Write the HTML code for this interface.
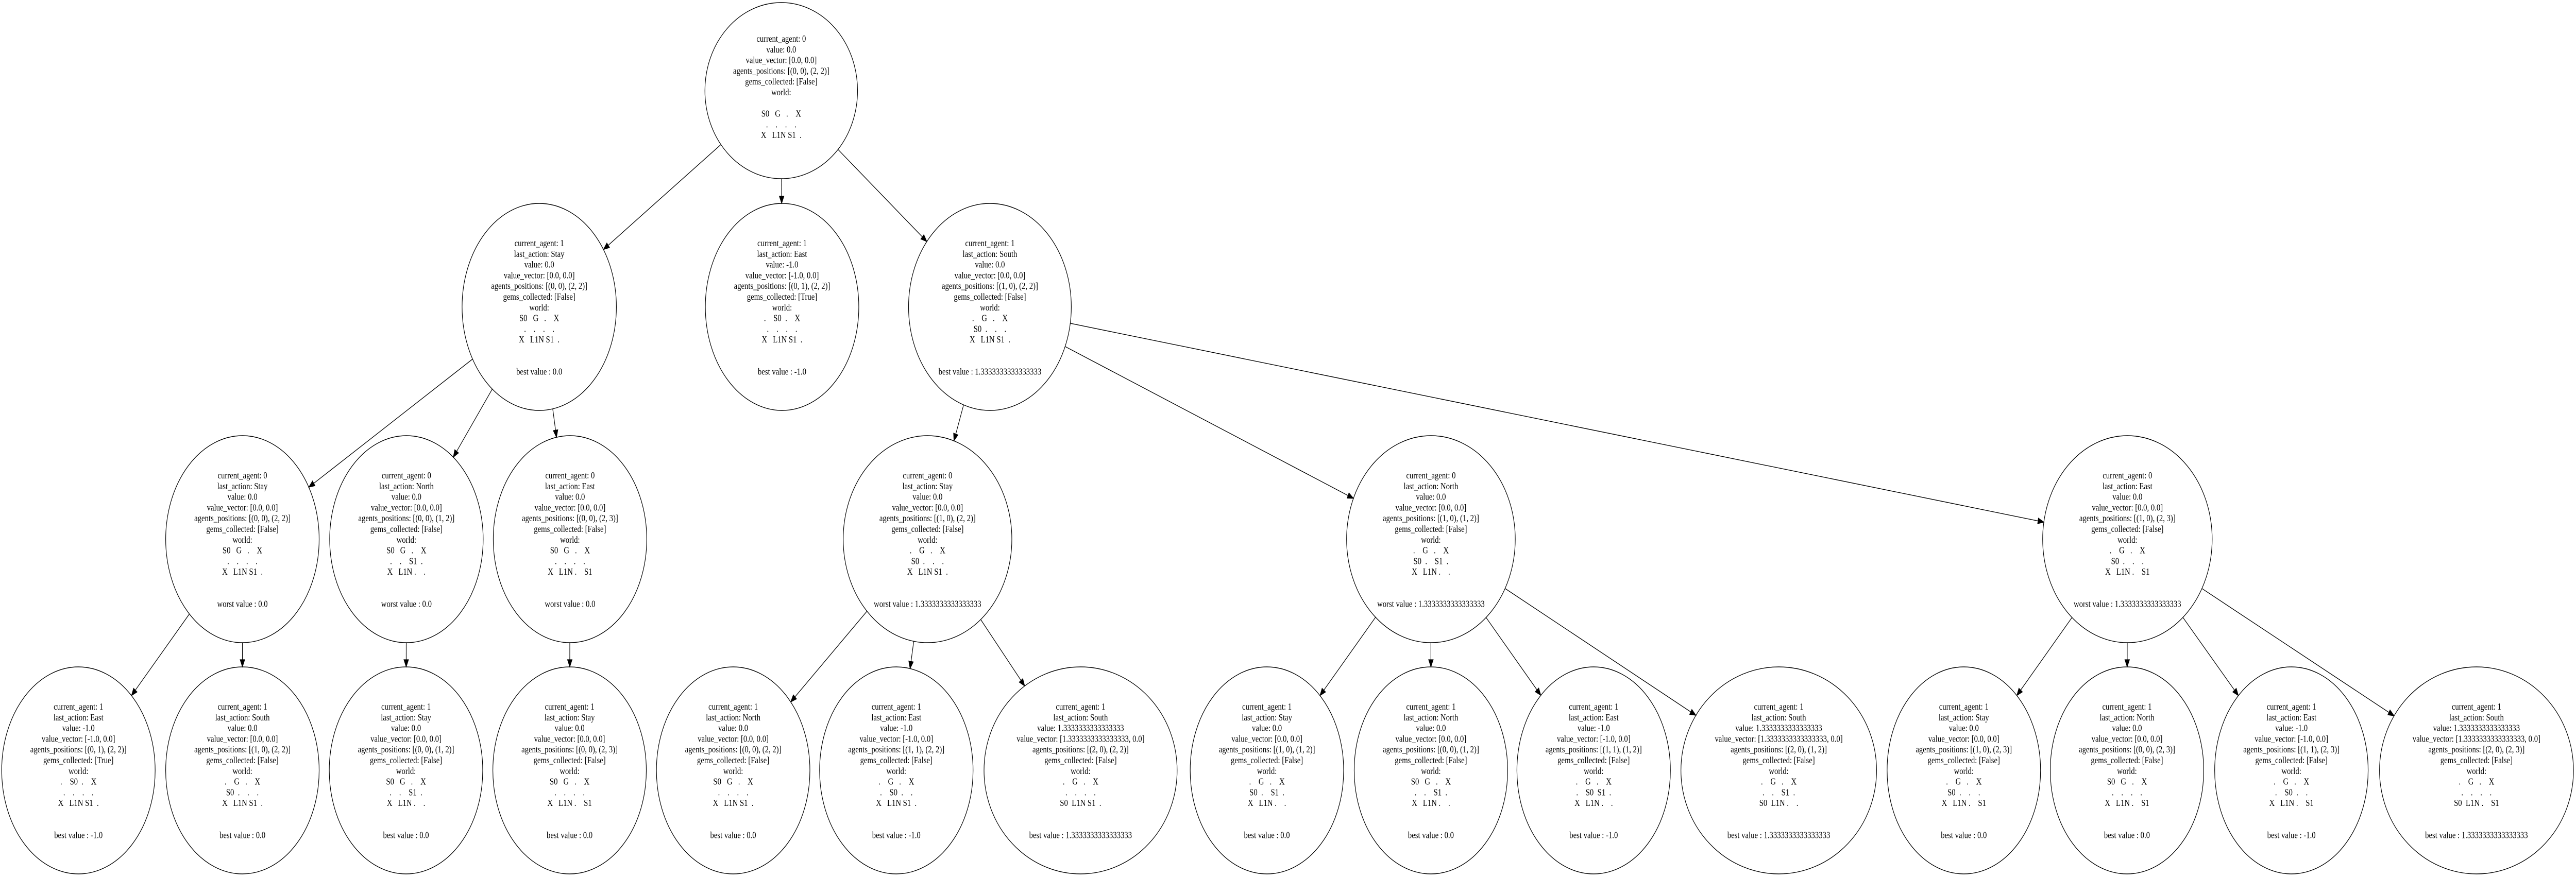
<!DOCTYPE html>
<html><head><meta charset="utf-8">
<style>
html,body{margin:0;padding:0;background:#fff;width:100%;height:100%;overflow:hidden;}
svg{display:block;width:100vw;height:100vh;position:fixed;left:0;top:0;}
text{font-family:"Liberation Serif","Times New Roman",serif;font-size:18px;fill:#000;}
ellipse{fill:none;stroke:#000;stroke-width:1.4;}
</style></head><body>
<svg id="s" viewBox="0 0 6110 1703" preserveAspectRatio="none" xmlns="http://www.w3.org/2000/svg">
<rect width="6110" height="1703" fill="#fff"/>
<g id="edges"></g>

<!-- Root -->
<g transform="translate(1853,176)"><ellipse rx="181" ry="171"/>
<text text-anchor="middle" xml:space="preserve" y="-95"><tspan x="0">current_agent: 0</tspan><tspan x="0" dy="20.8">value: 0.0</tspan><tspan x="0" dy="20.8">value_vector: [0.0, 0.0]</tspan><tspan x="0" dy="20.8">agents_positions: [(0, 0), (2, 2)]</tspan><tspan x="0" dy="20.8">gems_collected: [False]</tspan><tspan x="0" dy="20.8">world:</tspan><tspan x="0" dy="41.6">S0   G   .    X</tspan><tspan x="0" dy="20.8">.    .    .    .</tspan><tspan x="0" dy="20.8">X   L1N S1  .</tspan></text></g>

<!-- L1 -->
<g transform="translate(1279,596)"><ellipse rx="183" ry="201"/>
<text text-anchor="middle" xml:space="preserve" y="-118"><tspan x="0">current_agent: 1</tspan><tspan x="0" dy="20.8">last_action: Stay</tspan><tspan x="0" dy="20.8">value: 0.0</tspan><tspan x="0" dy="20.8">value_vector: [0.0, 0.0]</tspan><tspan x="0" dy="20.8">agents_positions: [(0, 0), (2, 2)]</tspan><tspan x="0" dy="20.8">gems_collected: [False]</tspan><tspan x="0" dy="20.8">world:</tspan><tspan x="0" dy="20.8">S0   G   .    X</tspan><tspan x="0" dy="20.8">.    .    .    .</tspan><tspan x="0" dy="20.8">X   L1N S1  .</tspan><tspan x="0" dy="62.4">best value : 0.0</tspan></text></g>

<g transform="translate(1855,596)"><ellipse rx="182" ry="201"/>
<text text-anchor="middle" xml:space="preserve" y="-118"><tspan x="0">current_agent: 1</tspan><tspan x="0" dy="20.8">last_action: East</tspan><tspan x="0" dy="20.8">value: -1.0</tspan><tspan x="0" dy="20.8">value_vector: [-1.0, 0.0]</tspan><tspan x="0" dy="20.8">agents_positions: [(0, 1), (2, 2)]</tspan><tspan x="0" dy="20.8">gems_collected: [True]</tspan><tspan x="0" dy="20.8">world:</tspan><tspan x="0" dy="20.8">.    S0  .    X</tspan><tspan x="0" dy="20.8">.    .    .    .</tspan><tspan x="0" dy="20.8">X   L1N S1  .</tspan><tspan x="0" dy="62.4">best value : -1.0</tspan></text></g>

<g transform="translate(2348,596)"><ellipse rx="193" ry="201"/>
<text text-anchor="middle" xml:space="preserve" y="-118"><tspan x="0">current_agent: 1</tspan><tspan x="0" dy="20.8">last_action: South</tspan><tspan x="0" dy="20.8">value: 0.0</tspan><tspan x="0" dy="20.8">value_vector: [0.0, 0.0]</tspan><tspan x="0" dy="20.8">agents_positions: [(1, 0), (2, 2)]</tspan><tspan x="0" dy="20.8">gems_collected: [False]</tspan><tspan x="0" dy="20.8">world:</tspan><tspan x="0" dy="20.8">.    G   .    X</tspan><tspan x="0" dy="20.8">S0  .    .    .</tspan><tspan x="0" dy="20.8">X   L1N S1  .</tspan><tspan x="0" dy="62.4">best value : 1.3333333333333333</tspan></text></g>

<!-- L2 -->
<g transform="translate(575,1047)"><ellipse rx="182" ry="201"/>
<text text-anchor="middle" xml:space="preserve" y="-118"><tspan x="0">current_agent: 0</tspan><tspan x="0" dy="20.8">last_action: Stay</tspan><tspan x="0" dy="20.8">value: 0.0</tspan><tspan x="0" dy="20.8">value_vector: [0.0, 0.0]</tspan><tspan x="0" dy="20.8">agents_positions: [(0, 0), (2, 2)]</tspan><tspan x="0" dy="20.8">gems_collected: [False]</tspan><tspan x="0" dy="20.8">world:</tspan><tspan x="0" dy="20.8">S0   G   .    X</tspan><tspan x="0" dy="20.8">.    .    .    .</tspan><tspan x="0" dy="20.8">X   L1N S1  .</tspan><tspan x="0" dy="62.4">worst value : 0.0</tspan></text></g>

<g transform="translate(964,1047)"><ellipse rx="182" ry="201"/>
<text text-anchor="middle" xml:space="preserve" y="-118"><tspan x="0">current_agent: 0</tspan><tspan x="0" dy="20.8">last_action: North</tspan><tspan x="0" dy="20.8">value: 0.0</tspan><tspan x="0" dy="20.8">value_vector: [0.0, 0.0]</tspan><tspan x="0" dy="20.8">agents_positions: [(0, 0), (1, 2)]</tspan><tspan x="0" dy="20.8">gems_collected: [False]</tspan><tspan x="0" dy="20.8">world:</tspan><tspan x="0" dy="20.8">S0   G   .    X</tspan><tspan x="0" dy="20.8">.    .    S1  .</tspan><tspan x="0" dy="20.8">X   L1N .    .</tspan><tspan x="0" dy="62.4">worst value : 0.0</tspan></text></g>

<g transform="translate(1352,1047)"><ellipse rx="182" ry="201"/>
<text text-anchor="middle" xml:space="preserve" y="-118"><tspan x="0">current_agent: 0</tspan><tspan x="0" dy="20.8">last_action: East</tspan><tspan x="0" dy="20.8">value: 0.0</tspan><tspan x="0" dy="20.8">value_vector: [0.0, 0.0]</tspan><tspan x="0" dy="20.8">agents_positions: [(0, 0), (2, 3)]</tspan><tspan x="0" dy="20.8">gems_collected: [False]</tspan><tspan x="0" dy="20.8">world:</tspan><tspan x="0" dy="20.8">S0   G   .    X</tspan><tspan x="0" dy="20.8">.    .    .    .</tspan><tspan x="0" dy="20.8">X   L1N .    S1</tspan><tspan x="0" dy="62.4">worst value : 0.0</tspan></text></g>

<g transform="translate(2200,1047)"><ellipse rx="200" ry="201"/>
<text text-anchor="middle" xml:space="preserve" y="-118"><tspan x="0">current_agent: 0</tspan><tspan x="0" dy="20.8">last_action: Stay</tspan><tspan x="0" dy="20.8">value: 0.0</tspan><tspan x="0" dy="20.8">value_vector: [0.0, 0.0]</tspan><tspan x="0" dy="20.8">agents_positions: [(1, 0), (2, 2)]</tspan><tspan x="0" dy="20.8">gems_collected: [False]</tspan><tspan x="0" dy="20.8">world:</tspan><tspan x="0" dy="20.8">.    G   .    X</tspan><tspan x="0" dy="20.8">S0  .    .    .</tspan><tspan x="0" dy="20.8">X   L1N S1  .</tspan><tspan x="0" dy="62.4">worst value : 1.3333333333333333</tspan></text></g>

<g transform="translate(3394,1047)"><ellipse rx="200" ry="201"/>
<text text-anchor="middle" xml:space="preserve" y="-118"><tspan x="0">current_agent: 0</tspan><tspan x="0" dy="20.8">last_action: North</tspan><tspan x="0" dy="20.8">value: 0.0</tspan><tspan x="0" dy="20.8">value_vector: [0.0, 0.0]</tspan><tspan x="0" dy="20.8">agents_positions: [(1, 0), (1, 2)]</tspan><tspan x="0" dy="20.8">gems_collected: [False]</tspan><tspan x="0" dy="20.8">world:</tspan><tspan x="0" dy="20.8">.    G   .    X</tspan><tspan x="0" dy="20.8">S0  .    S1  .</tspan><tspan x="0" dy="20.8">X   L1N .    .</tspan><tspan x="0" dy="62.4">worst value : 1.3333333333333333</tspan></text></g>

<g transform="translate(5046,1047)"><ellipse rx="201" ry="201"/>
<text text-anchor="middle" xml:space="preserve" y="-118"><tspan x="0">current_agent: 0</tspan><tspan x="0" dy="20.8">last_action: East</tspan><tspan x="0" dy="20.8">value: 0.0</tspan><tspan x="0" dy="20.8">value_vector: [0.0, 0.0]</tspan><tspan x="0" dy="20.8">agents_positions: [(1, 0), (2, 3)]</tspan><tspan x="0" dy="20.8">gems_collected: [False]</tspan><tspan x="0" dy="20.8">world:</tspan><tspan x="0" dy="20.8">.    G   .    X</tspan><tspan x="0" dy="20.8">S0  .    .    .</tspan><tspan x="0" dy="20.8">X   L1N .    S1</tspan><tspan x="0" dy="62.4">worst value : 1.3333333333333333</tspan></text></g>

<!-- L3 -->
<g transform="translate(186,1496)"><ellipse rx="182" ry="201"/>
<text text-anchor="middle" xml:space="preserve" y="-118"><tspan x="0">current_agent: 1</tspan><tspan x="0" dy="20.8">last_action: East</tspan><tspan x="0" dy="20.8">value: -1.0</tspan><tspan x="0" dy="20.8">value_vector: [-1.0, 0.0]</tspan><tspan x="0" dy="20.8">agents_positions: [(0, 1), (2, 2)]</tspan><tspan x="0" dy="20.8">gems_collected: [True]</tspan><tspan x="0" dy="20.8">world:</tspan><tspan x="0" dy="20.8">.    S0  .    X</tspan><tspan x="0" dy="20.8">.    .    .    .</tspan><tspan x="0" dy="20.8">X   L1N S1  .</tspan><tspan x="0" dy="62.4">best value : -1.0</tspan></text></g>

<g transform="translate(575,1496)"><ellipse rx="182" ry="201"/>
<text text-anchor="middle" xml:space="preserve" y="-118"><tspan x="0">current_agent: 1</tspan><tspan x="0" dy="20.8">last_action: South</tspan><tspan x="0" dy="20.8">value: 0.0</tspan><tspan x="0" dy="20.8">value_vector: [0.0, 0.0]</tspan><tspan x="0" dy="20.8">agents_positions: [(1, 0), (2, 2)]</tspan><tspan x="0" dy="20.8">gems_collected: [False]</tspan><tspan x="0" dy="20.8">world:</tspan><tspan x="0" dy="20.8">.    G   .    X</tspan><tspan x="0" dy="20.8">S0  .    .    .</tspan><tspan x="0" dy="20.8">X   L1N S1  .</tspan><tspan x="0" dy="62.4">best value : 0.0</tspan></text></g>

<g transform="translate(963,1496)"><ellipse rx="182" ry="201"/>
<text text-anchor="middle" xml:space="preserve" y="-118"><tspan x="0">current_agent: 1</tspan><tspan x="0" dy="20.8">last_action: Stay</tspan><tspan x="0" dy="20.8">value: 0.0</tspan><tspan x="0" dy="20.8">value_vector: [0.0, 0.0]</tspan><tspan x="0" dy="20.8">agents_positions: [(0, 0), (1, 2)]</tspan><tspan x="0" dy="20.8">gems_collected: [False]</tspan><tspan x="0" dy="20.8">world:</tspan><tspan x="0" dy="20.8">S0   G   .    X</tspan><tspan x="0" dy="20.8">.    .    S1  .</tspan><tspan x="0" dy="20.8">X   L1N .    .</tspan><tspan x="0" dy="62.4">best value : 0.0</tspan></text></g>

<g transform="translate(1351,1496)"><ellipse rx="182" ry="201"/>
<text text-anchor="middle" xml:space="preserve" y="-118"><tspan x="0">current_agent: 1</tspan><tspan x="0" dy="20.8">last_action: Stay</tspan><tspan x="0" dy="20.8">value: 0.0</tspan><tspan x="0" dy="20.8">value_vector: [0.0, 0.0]</tspan><tspan x="0" dy="20.8">agents_positions: [(0, 0), (2, 3)]</tspan><tspan x="0" dy="20.8">gems_collected: [False]</tspan><tspan x="0" dy="20.8">world:</tspan><tspan x="0" dy="20.8">S0   G   .    X</tspan><tspan x="0" dy="20.8">.    .    .    .</tspan><tspan x="0" dy="20.8">X   L1N .    S1</tspan><tspan x="0" dy="62.4">best value : 0.0</tspan></text></g>

<g transform="translate(1739,1496)"><ellipse rx="182" ry="201"/>
<text text-anchor="middle" xml:space="preserve" y="-118"><tspan x="0">current_agent: 1</tspan><tspan x="0" dy="20.8">last_action: North</tspan><tspan x="0" dy="20.8">value: 0.0</tspan><tspan x="0" dy="20.8">value_vector: [0.0, 0.0]</tspan><tspan x="0" dy="20.8">agents_positions: [(0, 0), (2, 2)]</tspan><tspan x="0" dy="20.8">gems_collected: [False]</tspan><tspan x="0" dy="20.8">world:</tspan><tspan x="0" dy="20.8">S0   G   .    X</tspan><tspan x="0" dy="20.8">.    .    .    .</tspan><tspan x="0" dy="20.8">X   L1N S1  .</tspan><tspan x="0" dy="62.4">best value : 0.0</tspan></text></g>

<g transform="translate(2126,1496)"><ellipse rx="182" ry="201"/>
<text text-anchor="middle" xml:space="preserve" y="-118"><tspan x="0">current_agent: 1</tspan><tspan x="0" dy="20.8">last_action: East</tspan><tspan x="0" dy="20.8">value: -1.0</tspan><tspan x="0" dy="20.8">value_vector: [-1.0, 0.0]</tspan><tspan x="0" dy="20.8">agents_positions: [(1, 1), (2, 2)]</tspan><tspan x="0" dy="20.8">gems_collected: [False]</tspan><tspan x="0" dy="20.8">world:</tspan><tspan x="0" dy="20.8">.    G   .    X</tspan><tspan x="0" dy="20.8">.    S0  .    .</tspan><tspan x="0" dy="20.8">X   L1N S1  .</tspan><tspan x="0" dy="62.4">best value : -1.0</tspan></text></g>

<g transform="translate(2563,1496)"><ellipse rx="229" ry="201"/>
<text text-anchor="middle" xml:space="preserve" y="-118"><tspan x="0">current_agent: 1</tspan><tspan x="0" dy="20.8">last_action: South</tspan><tspan x="0" dy="20.8">value: 1.3333333333333333</tspan><tspan x="0" dy="20.8">value_vector: [1.3333333333333333, 0.0]</tspan><tspan x="0" dy="20.8">agents_positions: [(2, 0), (2, 2)]</tspan><tspan x="0" dy="20.8">gems_collected: [False]</tspan><tspan x="0" dy="20.8">world:</tspan><tspan x="0" dy="20.8">.    G   .    X</tspan><tspan x="0" dy="20.8">.    .    .    .</tspan><tspan x="0" dy="20.8">S0  L1N S1  .</tspan><tspan x="0" dy="62.4">best value : 1.3333333333333333</tspan></text></g>

<g transform="translate(3005,1496)"><ellipse rx="182" ry="201"/>
<text text-anchor="middle" xml:space="preserve" y="-118"><tspan x="0">current_agent: 1</tspan><tspan x="0" dy="20.8">last_action: Stay</tspan><tspan x="0" dy="20.8">value: 0.0</tspan><tspan x="0" dy="20.8">value_vector: [0.0, 0.0]</tspan><tspan x="0" dy="20.8">agents_positions: [(1, 0), (1, 2)]</tspan><tspan x="0" dy="20.8">gems_collected: [False]</tspan><tspan x="0" dy="20.8">world:</tspan><tspan x="0" dy="20.8">.    G   .    X</tspan><tspan x="0" dy="20.8">S0  .    S1  .</tspan><tspan x="0" dy="20.8">X   L1N .    .</tspan><tspan x="0" dy="62.4">best value : 0.0</tspan></text></g>

<g transform="translate(3394,1496)"><ellipse rx="182" ry="201"/>
<text text-anchor="middle" xml:space="preserve" y="-118"><tspan x="0">current_agent: 1</tspan><tspan x="0" dy="20.8">last_action: North</tspan><tspan x="0" dy="20.8">value: 0.0</tspan><tspan x="0" dy="20.8">value_vector: [0.0, 0.0]</tspan><tspan x="0" dy="20.8">agents_positions: [(0, 0), (1, 2)]</tspan><tspan x="0" dy="20.8">gems_collected: [False]</tspan><tspan x="0" dy="20.8">world:</tspan><tspan x="0" dy="20.8">S0   G   .    X</tspan><tspan x="0" dy="20.8">.    .    S1  .</tspan><tspan x="0" dy="20.8">X   L1N .    .</tspan><tspan x="0" dy="62.4">best value : 0.0</tspan></text></g>

<g transform="translate(3780,1496)"><ellipse rx="182" ry="201"/>
<text text-anchor="middle" xml:space="preserve" y="-118"><tspan x="0">current_agent: 1</tspan><tspan x="0" dy="20.8">last_action: East</tspan><tspan x="0" dy="20.8">value: -1.0</tspan><tspan x="0" dy="20.8">value_vector: [-1.0, 0.0]</tspan><tspan x="0" dy="20.8">agents_positions: [(1, 1), (1, 2)]</tspan><tspan x="0" dy="20.8">gems_collected: [False]</tspan><tspan x="0" dy="20.8">world:</tspan><tspan x="0" dy="20.8">.    G   .    X</tspan><tspan x="0" dy="20.8">.    S0  S1  .</tspan><tspan x="0" dy="20.8">X   L1N .    .</tspan><tspan x="0" dy="62.4">best value : -1.0</tspan></text></g>

<g transform="translate(4219,1496)"><ellipse rx="232" ry="201"/>
<text text-anchor="middle" xml:space="preserve" y="-118"><tspan x="0">current_agent: 1</tspan><tspan x="0" dy="20.8">last_action: South</tspan><tspan x="0" dy="20.8">value: 1.3333333333333333</tspan><tspan x="0" dy="20.8">value_vector: [1.3333333333333333, 0.0]</tspan><tspan x="0" dy="20.8">agents_positions: [(2, 0), (1, 2)]</tspan><tspan x="0" dy="20.8">gems_collected: [False]</tspan><tspan x="0" dy="20.8">world:</tspan><tspan x="0" dy="20.8">.    G   .    X</tspan><tspan x="0" dy="20.8">.    .    S1  .</tspan><tspan x="0" dy="20.8">S0  L1N .    .</tspan><tspan x="0" dy="62.4">best value : 1.3333333333333333</tspan></text></g>

<g transform="translate(4658,1496)"><ellipse rx="182" ry="201"/>
<text text-anchor="middle" xml:space="preserve" y="-118"><tspan x="0">current_agent: 1</tspan><tspan x="0" dy="20.8">last_action: Stay</tspan><tspan x="0" dy="20.8">value: 0.0</tspan><tspan x="0" dy="20.8">value_vector: [0.0, 0.0]</tspan><tspan x="0" dy="20.8">agents_positions: [(1, 0), (2, 3)]</tspan><tspan x="0" dy="20.8">gems_collected: [False]</tspan><tspan x="0" dy="20.8">world:</tspan><tspan x="0" dy="20.8">.    G   .    X</tspan><tspan x="0" dy="20.8">S0  .    .    .</tspan><tspan x="0" dy="20.8">X   L1N .    S1</tspan><tspan x="0" dy="62.4">best value : 0.0</tspan></text></g>

<g transform="translate(5045,1496)"><ellipse rx="182" ry="201"/>
<text text-anchor="middle" xml:space="preserve" y="-118"><tspan x="0">current_agent: 1</tspan><tspan x="0" dy="20.8">last_action: North</tspan><tspan x="0" dy="20.8">value: 0.0</tspan><tspan x="0" dy="20.8">value_vector: [0.0, 0.0]</tspan><tspan x="0" dy="20.8">agents_positions: [(0, 0), (2, 3)]</tspan><tspan x="0" dy="20.8">gems_collected: [False]</tspan><tspan x="0" dy="20.8">world:</tspan><tspan x="0" dy="20.8">S0   G   .    X</tspan><tspan x="0" dy="20.8">.    .    .    .</tspan><tspan x="0" dy="20.8">X   L1N .    S1</tspan><tspan x="0" dy="62.4">best value : 0.0</tspan></text></g>

<g transform="translate(5435,1496)"><ellipse rx="182" ry="201"/>
<text text-anchor="middle" xml:space="preserve" y="-118"><tspan x="0">current_agent: 1</tspan><tspan x="0" dy="20.8">last_action: East</tspan><tspan x="0" dy="20.8">value: -1.0</tspan><tspan x="0" dy="20.8">value_vector: [-1.0, 0.0]</tspan><tspan x="0" dy="20.8">agents_positions: [(1, 1), (2, 3)]</tspan><tspan x="0" dy="20.8">gems_collected: [False]</tspan><tspan x="0" dy="20.8">world:</tspan><tspan x="0" dy="20.8">.    G   .    X</tspan><tspan x="0" dy="20.8">.    S0  .    .</tspan><tspan x="0" dy="20.8">X   L1N .    S1</tspan><tspan x="0" dy="62.4">best value : -1.0</tspan></text></g>

<g transform="translate(5874,1496)"><ellipse rx="230" ry="201"/>
<text text-anchor="middle" xml:space="preserve" y="-118"><tspan x="0">current_agent: 1</tspan><tspan x="0" dy="20.8">last_action: South</tspan><tspan x="0" dy="20.8">value: 1.3333333333333333</tspan><tspan x="0" dy="20.8">value_vector: [1.3333333333333333, 0.0]</tspan><tspan x="0" dy="20.8">agents_positions: [(2, 0), (2, 3)]</tspan><tspan x="0" dy="20.8">gems_collected: [False]</tspan><tspan x="0" dy="20.8">world:</tspan><tspan x="0" dy="20.8">.    G   .    X</tspan><tspan x="0" dy="20.8">.    .    .    .</tspan><tspan x="0" dy="20.8">S0  L1N .    S1</tspan><tspan x="0" dy="62.4">best value : 1.3333333333333333</tspan></text></g>
</svg>
<script>
(function(){
var N={
R:[1853,176,181,171],A:[1279,596,183,201],B:[1855,596,182,201],C:[2348,596,193,201],
D:[575,1047,182,201],E:[964,1047,182,201],F:[1352,1047,182,201],G:[2200,1047,200,201],H:[3394,1047,200,201],I:[5046,1047,201,201],
a:[186,1496,182,201],b:[575,1496,182,201],c:[963,1496,182,201],d:[1351,1496,182,201],e:[1739,1496,182,201],f:[2126,1496,182,201],g:[2563,1496,229,201],
h:[3005,1496,182,201],i:[3394,1496,182,201],j:[3780,1496,182,201],k:[4219,1496,232,201],l:[4658,1496,182,201],m:[5045,1496,182,201],n:[5435,1496,182,201],o:[5874,1496,230,201]};
var E=[["R","A"],["R","B"],["R","C"],["A","D"],["A","E"],["A","F"],["C","G"],["C","H"],["C","I"],
["D","a"],["D","b"],["E","c"],["F","d"],["G","e"],["G","f"],["G","g"],["H","h"],["H","i"],["H","j"],["H","k"],["I","l"],["I","m"],["I","n"],["I","o"]];
var g=document.getElementById("edges"),out="";
function bd(n,dx,dy){var t=1/Math.sqrt((dx/n[2])*(dx/n[2])+(dy/n[3])*(dy/n[3]));return [n[0]+dx*t,n[1]+dy*t];}
E.forEach(function(e){var p=N[e[0]],c=N[e[1]];var dx=c[0]-p[0],dy=c[1]-p[1];
var s=bd(p,dx,dy),t=bd(c,-dx,-dy);var vx=t[0]-s[0],vy=t[1]-s[1],L=Math.sqrt(vx*vx+vy*vy);var ux=vx/L,uy=vy/L;
var al=14,aw=5.5;var bx=t[0]-ux*al,by=t[1]-uy*al;
out+='<line x1="'+s[0]+'" y1="'+s[1]+'" x2="'+bx+'" y2="'+by+'" stroke="#000" stroke-width="1.4"/>';
out+='<polygon points="'+t[0]+','+t[1]+' '+(bx-uy*aw)+','+(by+ux*aw)+' '+(bx+uy*aw)+','+(by-ux*aw)+'" fill="#000" stroke="#000" stroke-width="1.2"/>';});
g.innerHTML=out;
})();
</script>
</body></html>
